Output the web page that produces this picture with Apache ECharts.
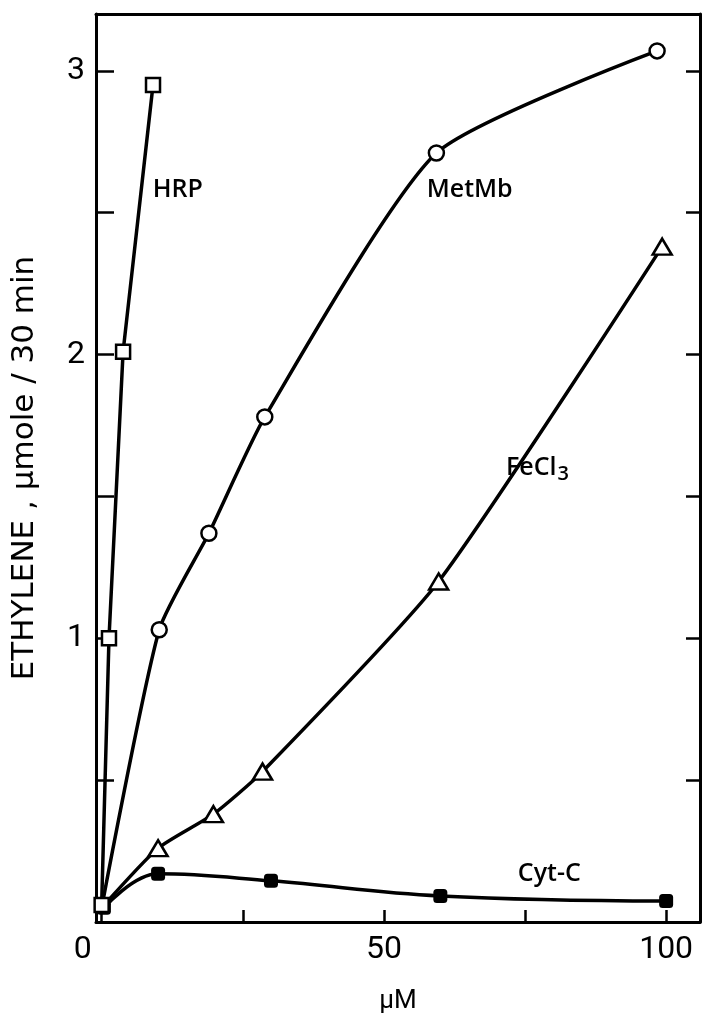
<!DOCTYPE html>
<html><head><meta charset="utf-8">
<script src="https://cdn.jsdelivr.net/npm/echarts@6/dist/echarts.min.js"></script>
<style>html,body{margin:0;padding:0;background:#fff}#c{width:703px;height:1028px}</style>
</head><body><div id="c"></div>
<script>
const hrpX = [0, 1.3, 3.8, 9.1];
const hrpY = [0.06, 1.0, 2.01, 2.95];
const metX = [0, 10.2, 19, 28.9, 59.3, 98.4];
const metY = [0.05, 1.03, 1.37, 1.78, 2.71, 3.07];
const feX = [0, 10, 19.8, 28.5, 59.7, 99.3];
const feY = [0.05, 0.26, 0.38, 0.53, 1.2, 2.38];
const cytX = [0.4, 10, 30, 60, 100];
const cytY = [0.05, 0.17, 0.145, 0.092, 0.074];
const xTicks = [0, 25, 50, 75, 100];
const xLabels = [0, 50, 100];
const yTicks = [0.5, 1, 1.5, 2, 2.5, 3];
const yLabels = [1, 2, 3];
const seriesLabels = [
  {name: 'HRP', x: 13.5, y: 2.58},
  {name: 'MetMb', x: 65.2, y: 2.58},
  {name: 'FeCl3', x: 77.2, y: 1.60},
  {name: 'Cyt-C', x: 79.3, y: 0.17}
];
const pts = (xs, ys) => xs.map((x, i) => [x, ys[i]]);
const lblFont = {color: '#000', fontFamily: 'Open Sans', fontWeight: 600, fontSize: 25};
function mp(name) {
  const l = seriesLabels.find(s => s.name === name);
  return {
    symbol: 'circle', symbolSize: 1, itemStyle: {color: 'rgba(0,0,0,0)'},
    label: Object.assign({show: true, position: 'inside',
      formatter: name === 'FeCl3' ? '{a|FeCl}{b|3}' : name,
      rich: {a: Object.assign({}, lblFont), b: Object.assign({}, lblFont, {fontSize: 20, padding: [12, 0, 0, 1]})}
    }, lblFont),
    data: [{coord: [l.x, l.y]}]
  };
}
const lineW = 3.5;
const openStyle = {color: '#fff', borderColor: '#000', borderWidth: 2.5};
const hideFirst = s => (v, p) => p.dataIndex === 0 ? 0 : s;
const numFont = {color: '#000', fontFamily: 'Roboto', fontWeight: 400, fontSize: 32};
const chart = echarts.init(document.getElementById('c'));
chart.setOption({
  animation: false,
  grid: {left: 96, right: 3, top: 14, bottom: 106},
  xAxis: [{
    type: 'value', min: -1, max: 106, position: 'bottom',
    name: 'µM', nameLocation: 'middle', nameGap: 66,
    nameTextStyle: {color: '#000', fontFamily: 'Roboto', fontWeight: 400, fontSize: 26},
    axisLine: {show: true, onZero: false, lineStyle: {color: '#000', width: 3}},
    axisTick: {show: true, inside: true, length: 12, customValues: xTicks, lineStyle: {color: '#000', width: 2.5}},
    axisLabel: Object.assign({customValues: xLabels, margin: 12,
      formatter: v => v === 0 ? '{z|0}' : String(v),
      rich: {z: Object.assign({}, numFont, {padding: [0, 38, 0, 0]})}}, numFont),
    splitLine: {show: false}
  }, {
    type: 'value', min: -1, max: 106, position: 'top',
    axisLine: {show: true, onZero: false, lineStyle: {color: '#000', width: 3}},
    axisTick: {show: false}, axisLabel: {show: false}, splitLine: {show: false}
  }],
  yAxis: [{
    type: 'value', min: 0, max: 3.2, position: 'left',
    name: 'ETHYLENE , µmole / 30 min', nameLocation: 'middle', nameGap: 56,
    nameTextStyle: {color: '#000', fontFamily: 'DejaVu Sans', fontSize: 31},
    axisLine: {show: true, onZero: false, lineStyle: {color: '#000', width: 3}},
    axisTick: {show: true, inside: true, length: 18, customValues: yTicks, lineStyle: {color: '#000', width: 2.5}},
    axisLabel: Object.assign({customValues: yLabels, margin: 11}, numFont),
    splitLine: {show: false}
  }, {
    type: 'value', min: 0, max: 3.2, position: 'right',
    axisLine: {show: true, onZero: false, lineStyle: {color: '#000', width: 3}},
    axisTick: {show: true, inside: true, length: 14, customValues: yTicks, lineStyle: {color: '#000', width: 2.5}},
    axisLabel: {show: false}, splitLine: {show: false}
  }],
  series: [
    {type: 'line', name: 'Cyt-C', data: pts(cytX, cytY), smooth: 0.4, symbol: 'roundRect', symbolSize: 14,
      lineStyle: {color: '#000', width: lineW}, itemStyle: {color: '#000'}, z: 2, markPoint: mp('Cyt-C')},
    {type: 'line', name: 'MetMb', data: pts(metX, metY), smooth: 0.2, symbol: 'circle', symbolSize: hideFirst(15),
      lineStyle: {color: '#000', width: lineW}, itemStyle: openStyle, z: 3, markPoint: mp('MetMb')},
    {type: 'line', name: 'FeCl3', data: pts(feX, feY), smooth: 0.2, symbol: 'triangle', symbolSize: hideFirst([19, 16]),
      lineStyle: {color: '#000', width: lineW}, itemStyle: openStyle, z: 3, markPoint: mp('FeCl3')},
    {type: 'line', name: 'HRP', data: pts(hrpX, hrpY), smooth: false, symbol: 'rect', symbolSize: 14,
      lineStyle: {color: '#000', width: lineW}, itemStyle: openStyle, z: 4, markPoint: mp('HRP')}
  ]
});
</script></body></html>
